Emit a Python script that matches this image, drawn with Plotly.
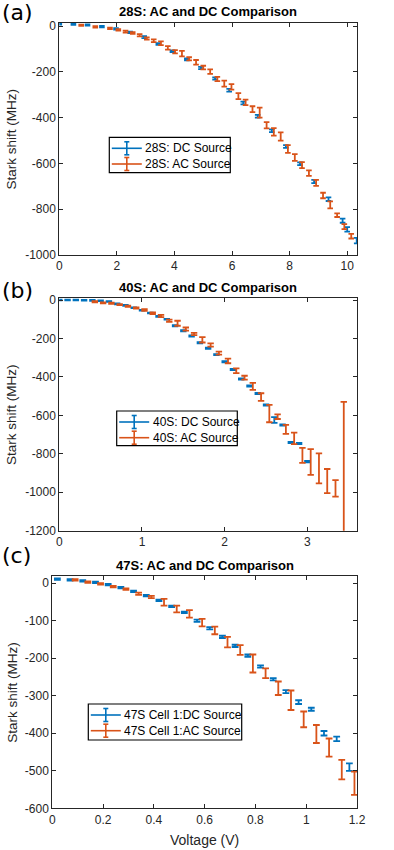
import plotly.graph_objects as go

# ---------------- data ----------------
# Panel (a) 28S
a_dc_x = [0, 0.49, 0.98, 1.48, 1.97, 2.46, 2.95, 3.44, 3.93, 4.43, 4.92, 5.41, 5.90,
          6.39, 6.89, 7.38, 7.87, 8.36, 8.85, 9.35, 9.84, 10.0, 10.33]
a_dc_y = [10, 9, 5, -2, -12, -27, -48, -78, -110, -145, -183, -229, -280,
          -336, -394, -457, -526, -601, -679, -756, -850, -888, -937]
a_dc_err = [3, 3, 3, 3, 3, 3, 4, 4, 4, 4, 5, 5, 6, 6, 6, 6, 6, 6, 7, 8, 9, 10, 12]

a_ac_x = [0.76, 1.25, 1.76, 2.05, 2.30, 2.55, 2.79, 3.04, 3.28, 3.53,
          3.77, 4.02, 4.26, 4.51, 4.75, 5.00, 5.24, 5.49, 5.73, 5.98,
          6.22, 6.47, 6.71, 6.96, 7.20, 7.45, 7.69, 7.94, 8.18, 8.43,
          8.67, 8.92, 9.16, 9.41, 9.65, 9.90, 10.14]
a_ac_y = [4, -3, -10, -16, -24, -30, -40, -54, -64, -75,
          -95, -112, -120, -143, -158, -181, -199, -231, -251, -265,
          -306, -333, -363, -378, -433, -462, -482, -537, -574, -607,
          -642, -685, -740, -781, -826, -876, -918]
a_ac_err = [3, 3, 3, 3, 4, 4, 5, 5, 6, 8,
            8, 7, 12, 7, 10, 8, 10, 9, 13, 12,
            13, 12, 13, 22, 14, 16, 18, 17, 15, 13,
            12, 13, 12, 15, 8, 11, 10]

# Panel (b) 40S
b_dc_x = [0.0, 0.1, 0.2, 0.3, 0.4, 0.5, 0.6, 0.7, 0.8, 0.9, 1.0, 1.1, 1.2, 1.3, 1.4, 1.5,
          1.6, 1.7, 1.8, 1.9, 2.0, 2.1, 2.2, 2.3, 2.4, 2.5, 2.6, 2.7, 2.8, 2.9, 3.0]
b_dc_y = [0, 0, 0, -1, -2, -4, -8, -20, -28, -40, -53, -68, -85, -100, -134, -160,
          -187, -222, -251, -284, -321, -361, -411, -447, -486, -546, -624, -650, -741, -746, -841]
b_dc_err = [2, 2, 2, 2, 2, 2, 2, 2, 2, 2, 2, 2, 2, 2, 3, 3,
            3, 3, 3, 3, 3, 3, 3, 3, 3, 3, 15, 3, 3, 3, 4]

b_ac_x = [0.43, 0.53, 0.63, 0.73, 0.83, 0.93, 1.03, 1.13, 1.23, 1.33, 1.43, 1.53, 1.63,
          1.73, 1.83, 1.93, 2.04, 2.14, 2.24, 2.34, 2.44, 2.54, 2.64, 2.74, 2.84, 2.94,
          3.04, 3.14, 3.24, 3.34, 3.44]
b_ac_y = [-9, -15, -17, -24, -32, -42, -52, -69, -83, -108, -121, -151, -177,
          -207, -234, -276, -317, -368, -404, -449, -505, -591, -607, -673, -720, -808,
          -843, -876, -942, -980, -1080]
b_ac_err = [3, 3, 3, 3, 3, 3, 4, 4, 6, 6, 13, 8, 6,
            14, 8, 8, 12, 12, 10, 18, 20, 45, 12, 23, 30, 39,
            67, 78, 63, 43, 550]

# Panel (c) 47S
c_dc_x = [0.02, 0.07, 0.12, 0.17, 0.22, 0.27, 0.32, 0.37, 0.42, 0.47, 0.52, 0.57,
          0.62, 0.67, 0.72, 0.77, 0.82, 0.87, 0.92, 0.97, 1.02, 1.07, 1.12, 1.17]
c_dc_y = [11, 9, 6, 2, -4, -12, -22, -33, -46, -62, -78, -100,
          -120, -143, -167, -193, -222, -256, -289, -317, -336, -400, -415, -490]
c_dc_err = [2, 2, 2, 2, 2, 2, 2, 2, 2, 2, 2, 3,
            3, 3, 3, 3, 3, 3, 4, 5, 4, 6, 6, 10]

c_ac_x = [0.09, 0.14, 0.19, 0.24, 0.29, 0.34, 0.39, 0.44, 0.49, 0.54, 0.59, 0.64,
          0.69, 0.74, 0.79, 0.84, 0.89, 0.94, 0.99, 1.04, 1.09, 1.14, 1.19]
c_ac_y = [9, 3, -2, -9, -16, -28, -37, -51, -69, -82, -105, -126,
          -157, -178, -214, -240, -280, -312, -363, -402, -438, -497, -533]
c_ac_err = [2, 2, 2, 2, 2, 3, 3, 9, 9, 10, 10, 10,
            14, 13, 24, 13, 18, 26, 21, 24, 24, 26, 31]

titles = ["28S: AC and DC Comparison", "40S: AC and DC Comparison", "47S: AC and DC Comparison"]
panel_labels = ["(a)", "(b)", "(c)"]
legend_names = [["28S: DC Source", "28S: AC Source"],
                ["40S: DC Source", "40S: AC Source"],
                ["47S Cell 1:DC Source", "47S Cell 1:AC Source"]]

a_xticks = [0, 2, 4, 6, 8, 10]
a_yticks = [0, -200, -400, -600, -800, -1000]
b_xticks = [0, 1, 2, 3]
b_yticks = [0, -200, -400, -600, -800, -1000, -1200]
c_xticks = [0, 0.2, 0.4, 0.6, 0.8, 1, 1.2]
c_yticks = [0, -100, -200, -300, -400, -500, -600]

# ---------------- styling ----------------
W, H = 394, 850
BLUE = "#0072BD"
ORANGE = "#D95319"
AX = "#262626"
FONT = "Liberation Sans, Arial, sans-serif"


def px_x(p):
    return p / W


def px_y(p):
    return 1 - p / H


panels = [
    dict(dc=(a_dc_x, a_dc_y, a_dc_err), ac=(a_ac_x, a_ac_y, a_ac_err),
         xr=[0, 10.34], yr=[-1000, 15], xt=a_xticks, yt=a_yticks,
         xd=[59.3, 357], yd=[255, 22.7], cap=2.8,
         title_x=208, title_y=11.7, lab_y=12.5, leg=(109.3, 137.3, 121, 35.4)),
    dict(dc=(b_dc_x, b_dc_y, b_dc_err), ac=(b_ac_x, b_ac_y, b_ac_err),
         xr=[0, 3.6], yr=[-1200, 12], xt=b_xticks, yt=b_yticks,
         xd=[59.3, 357], yd=[530.7, 297.7], cap=3.2,
         title_x=208, title_y=287.3, lab_y=290, leg=(116.7, 411, 120.6, 34.7)),
    dict(dc=(c_dc_x, c_dc_y, c_dc_err), ac=(c_ac_x, c_ac_y, c_ac_err),
         xr=[0, 1.2], yr=[-600, 20], xt=c_xticks, yt=c_yticks,
         xd=[52.3, 357], yd=[808.3, 575.7], cap=3.4,
         title_x=205, title_y=565, lab_y=555, leg=(88.3, 704, 153.4, 36)),
]

fig = go.Figure()
annotations = []
shapes = []
layout = {}

for i, p in enumerate(panels):
    n = "" if i == 0 else str(i + 1)
    xa, ya = "x" + n, "y" + n
    for (xs, ys, es), col in [(p["dc"], BLUE), (p["ac"], ORANGE)]:
        fig.add_trace(go.Scatter(
            x=xs, y=ys, mode="markers", xaxis=xa, yaxis=ya,
            marker=dict(size=1, color=col, opacity=0),
            error_y=dict(type="data", array=es, visible=True, color=col,
                         thickness=1.8, width=p["cap"]),
            showlegend=False, hoverinfo="skip"))

    tickfont = dict(family=FONT, size=12, color=AX)
    layout["xaxis" + n] = dict(
        domain=[px_x(p["xd"][0]), px_x(p["xd"][1])], range=p["xr"], anchor=ya,
        tickvals=p["xt"], ticktext=[str(v) for v in p["xt"]],
        ticks="inside", ticklen=4, tickcolor=AX, tickwidth=1,
        showline=True, linecolor=AX, linewidth=1, mirror="ticks",
        showgrid=False, zeroline=False, tickfont=tickfont, automargin=False)
    layout["yaxis" + n] = dict(
        domain=[px_y(p["yd"][0]), px_y(p["yd"][1])], range=p["yr"], anchor=xa,
        tickvals=p["yt"], ticktext=[str(v) for v in p["yt"]],
        ticks="inside", ticklen=4, tickcolor=AX, tickwidth=1,
        showline=True, linecolor=AX, linewidth=1, mirror="ticks",
        showgrid=False, zeroline=False, tickfont=tickfont, automargin=False)

    # hand-drawn legend box (MATLAB style: line with error-bar glyph)
    lx, ly, lw, lh = p["leg"]
    shapes.append(dict(type="rect", xref="paper", yref="paper",
                       x0=px_x(lx), x1=px_x(lx + lw), y0=px_y(ly + lh), y1=px_y(ly),
                       line=dict(color="black", width=1.2), fillcolor="white", layer="above"))
    for k, col in enumerate([BLUE, ORANGE]):
        cy = ly + 11 + k * 15.7
        x0, x1 = lx + 2.5, lx + 32.5
        xm = (x0 + x1) / 2
        for seg in [(x0, cy, x1, cy), (xm, cy - 6.5, xm, cy + 6.5),
                    (xm - 2.5, cy - 6.5, xm + 2.5, cy - 6.5),
                    (xm - 2.5, cy + 6.5, xm + 2.5, cy + 6.5)]:
            shapes.append(dict(type="line", xref="paper", yref="paper",
                               x0=px_x(seg[0]), y0=px_y(seg[1]),
                               x1=px_x(seg[2]), y1=px_y(seg[3]),
                               line=dict(color=col, width=1.6), layer="above"))
        annotations.append(dict(
            text=legend_names[i][k], x=px_x(lx + 34), y=px_y(cy),
            xref="paper", yref="paper", showarrow=False,
            xanchor="left", yanchor="middle",
            font=dict(family=FONT, size=12, color="black")))

    annotations.append(dict(
        text="<b>" + titles[i] + "</b>", x=px_x(p["title_x"]),
        y=px_y(p["title_y"]), xref="paper", yref="paper", showarrow=False,
        xanchor="center", yanchor="middle",
        font=dict(family=FONT, size=13, color="black")))
    annotations.append(dict(
        text=panel_labels[i], x=px_x(0), y=px_y(p["lab_y"]), xref="paper", yref="paper",
        showarrow=False, xanchor="left", yanchor="middle",
        font=dict(family="DejaVu Sans", size=22, color="black")))
    annotations.append(dict(
        text="Stark shift (MHz)", x=px_x(11.7),
        y=px_y((p["yd"][0] + p["yd"][1]) / 2), xref="paper", yref="paper",
        showarrow=False, textangle=-90, xanchor="center", yanchor="middle",
        font=dict(family=FONT, size=13.5, color=AX)))

annotations.append(dict(
    text="Voltage (V)", x=px_x(205), y=px_y(840), xref="paper", yref="paper",
    showarrow=False, xanchor="center", yanchor="middle",
    font=dict(family=FONT, size=14, color=AX)))

fig.update_layout(
    width=W, height=H,
    margin=dict(l=0, r=0, t=0, b=0, pad=0, autoexpand=False),
    paper_bgcolor="white", plot_bgcolor="white",
    annotations=annotations, shapes=shapes,
    **layout)

fig.write_html("out.html",
               config={"displayModeBar": False},
               post_script="document.body.style.margin='0px';document.body.style.padding='0px';")
